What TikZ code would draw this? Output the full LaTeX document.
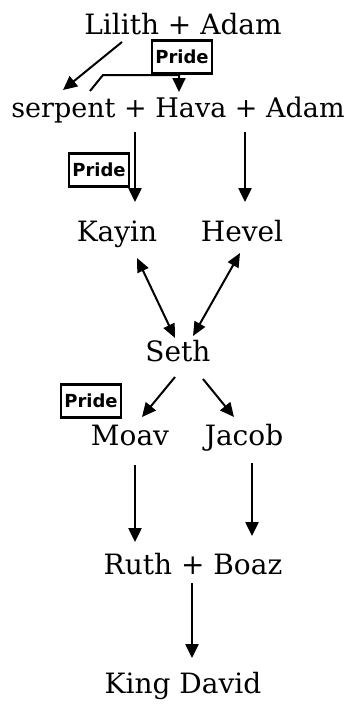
\documentclass[tikz,border=0pt]{standalone}
\usepackage{fontspec}
\setmainfont{DejaVu Serif}
\newfontfamily\pridefont{DejaVu Sans}
\usetikzlibrary{arrows.meta}
\tikzset{
  lbl/.style={anchor=base, inner sep=0pt, font=\fontsize{28}{30}\selectfont},
  pridebox/.style={draw, line width=2.5pt, minimum width=60pt, minimum height=33pt, inner sep=0pt,
    font=\pridefont\bfseries\fontsize{18}{20}\selectfont},
  tip/.style={-{Triangle[length=14pt,width=13pt]}},
  arr/.style={tip, line width=2.5pt},
  thinarr/.style={tip, line width=2pt},
  dblarr/.style={{Triangle[length=14pt,width=12pt]}-{Triangle[length=14pt,width=12pt]}, line width=2pt}
}
\begin{document}
\begin{tikzpicture}[x=1pt,y=-1pt]
\useasboundingbox[fill=white] (0,0) rectangle (348,704);

% text nodes
\node[lbl] (lilith) at (183,34) {Lilith + Adam};
\node[lbl, font=\fontsize{27}{29}\selectfont] (row2) at (178,117) {serpent + Hava + Adam};
\node[lbl] (kayin) at (117,241) {Kayin};
\node[lbl] (hevel) at (242,241) {Hevel};
\node[lbl] (seth) at (178,361) {Seth};
\node[lbl] (moav) at (130,445) {Moav};
\node[lbl] (jacob) at (244,445) {Jacob};
\node[lbl] (ruthboaz) at (193,574) {Ruth + Boaz};
\node[lbl] (david) at (183,693) {King David};

% Pride boxes
\node[pridebox] (pride1) at (182,57) {Pride};
\node[pridebox] (pride2) at (99,170) {Pride};
\node[pridebox] (pride3) at (91,401) {Pride};

% connector end points
\coordinate (lilith-out) at (122,42);
\coordinate (serp-in) at (63,90);
\coordinate (serp-out) at (90,91);
\coordinate (bend1) at (103,75);
\coordinate (bend2) at (179,75);
\coordinate (hava-in) at (179,92);
\coordinate (hava-out) at (135,132);
\coordinate (kayin-in) at (135,202);
\coordinate (adam-out) at (245,132);
\coordinate (hevel-in) at (245,202);
\coordinate (kayin-out) at (137,258);
\coordinate (seth-in1) at (175,338);
\coordinate (hevel-out) at (240,253);
\coordinate (seth-in2) at (193,336);
\coordinate (seth-out1) at (175,377);
\coordinate (moav-in) at (142,417);
\coordinate (seth-out2) at (203,379);
\coordinate (jacob-in) at (234,417);
\coordinate (moav-out) at (135,465);
\coordinate (ruth-in) at (135,542);
\coordinate (jacob-out) at (252,463);
\coordinate (boaz-in) at (252,536);
\coordinate (rb-out) at (192,583);
\coordinate (david-in) at (192,658);

% connectors
\draw[thinarr] (lilith-out) -- (serp-in);
\draw[thinarr] (serp-out) -- (bend1) -- (bend2) -- (hava-in);
\draw[arr] (hava-out) -- (kayin-in);
\draw[arr] (adam-out) -- (hevel-in);
\draw[dblarr] (kayin-out) -- (seth-in1);
\draw[dblarr] (hevel-out) -- (seth-in2);
\draw[thinarr] (seth-out1) -- (moav-in);
\draw[thinarr] (seth-out2) -- (jacob-in);
\draw[arr] (moav-out) -- (ruth-in);
\draw[arr] (jacob-out) -- (boaz-in);
\draw[arr] (rb-out) -- (david-in);
\end{tikzpicture}
\end{document}
